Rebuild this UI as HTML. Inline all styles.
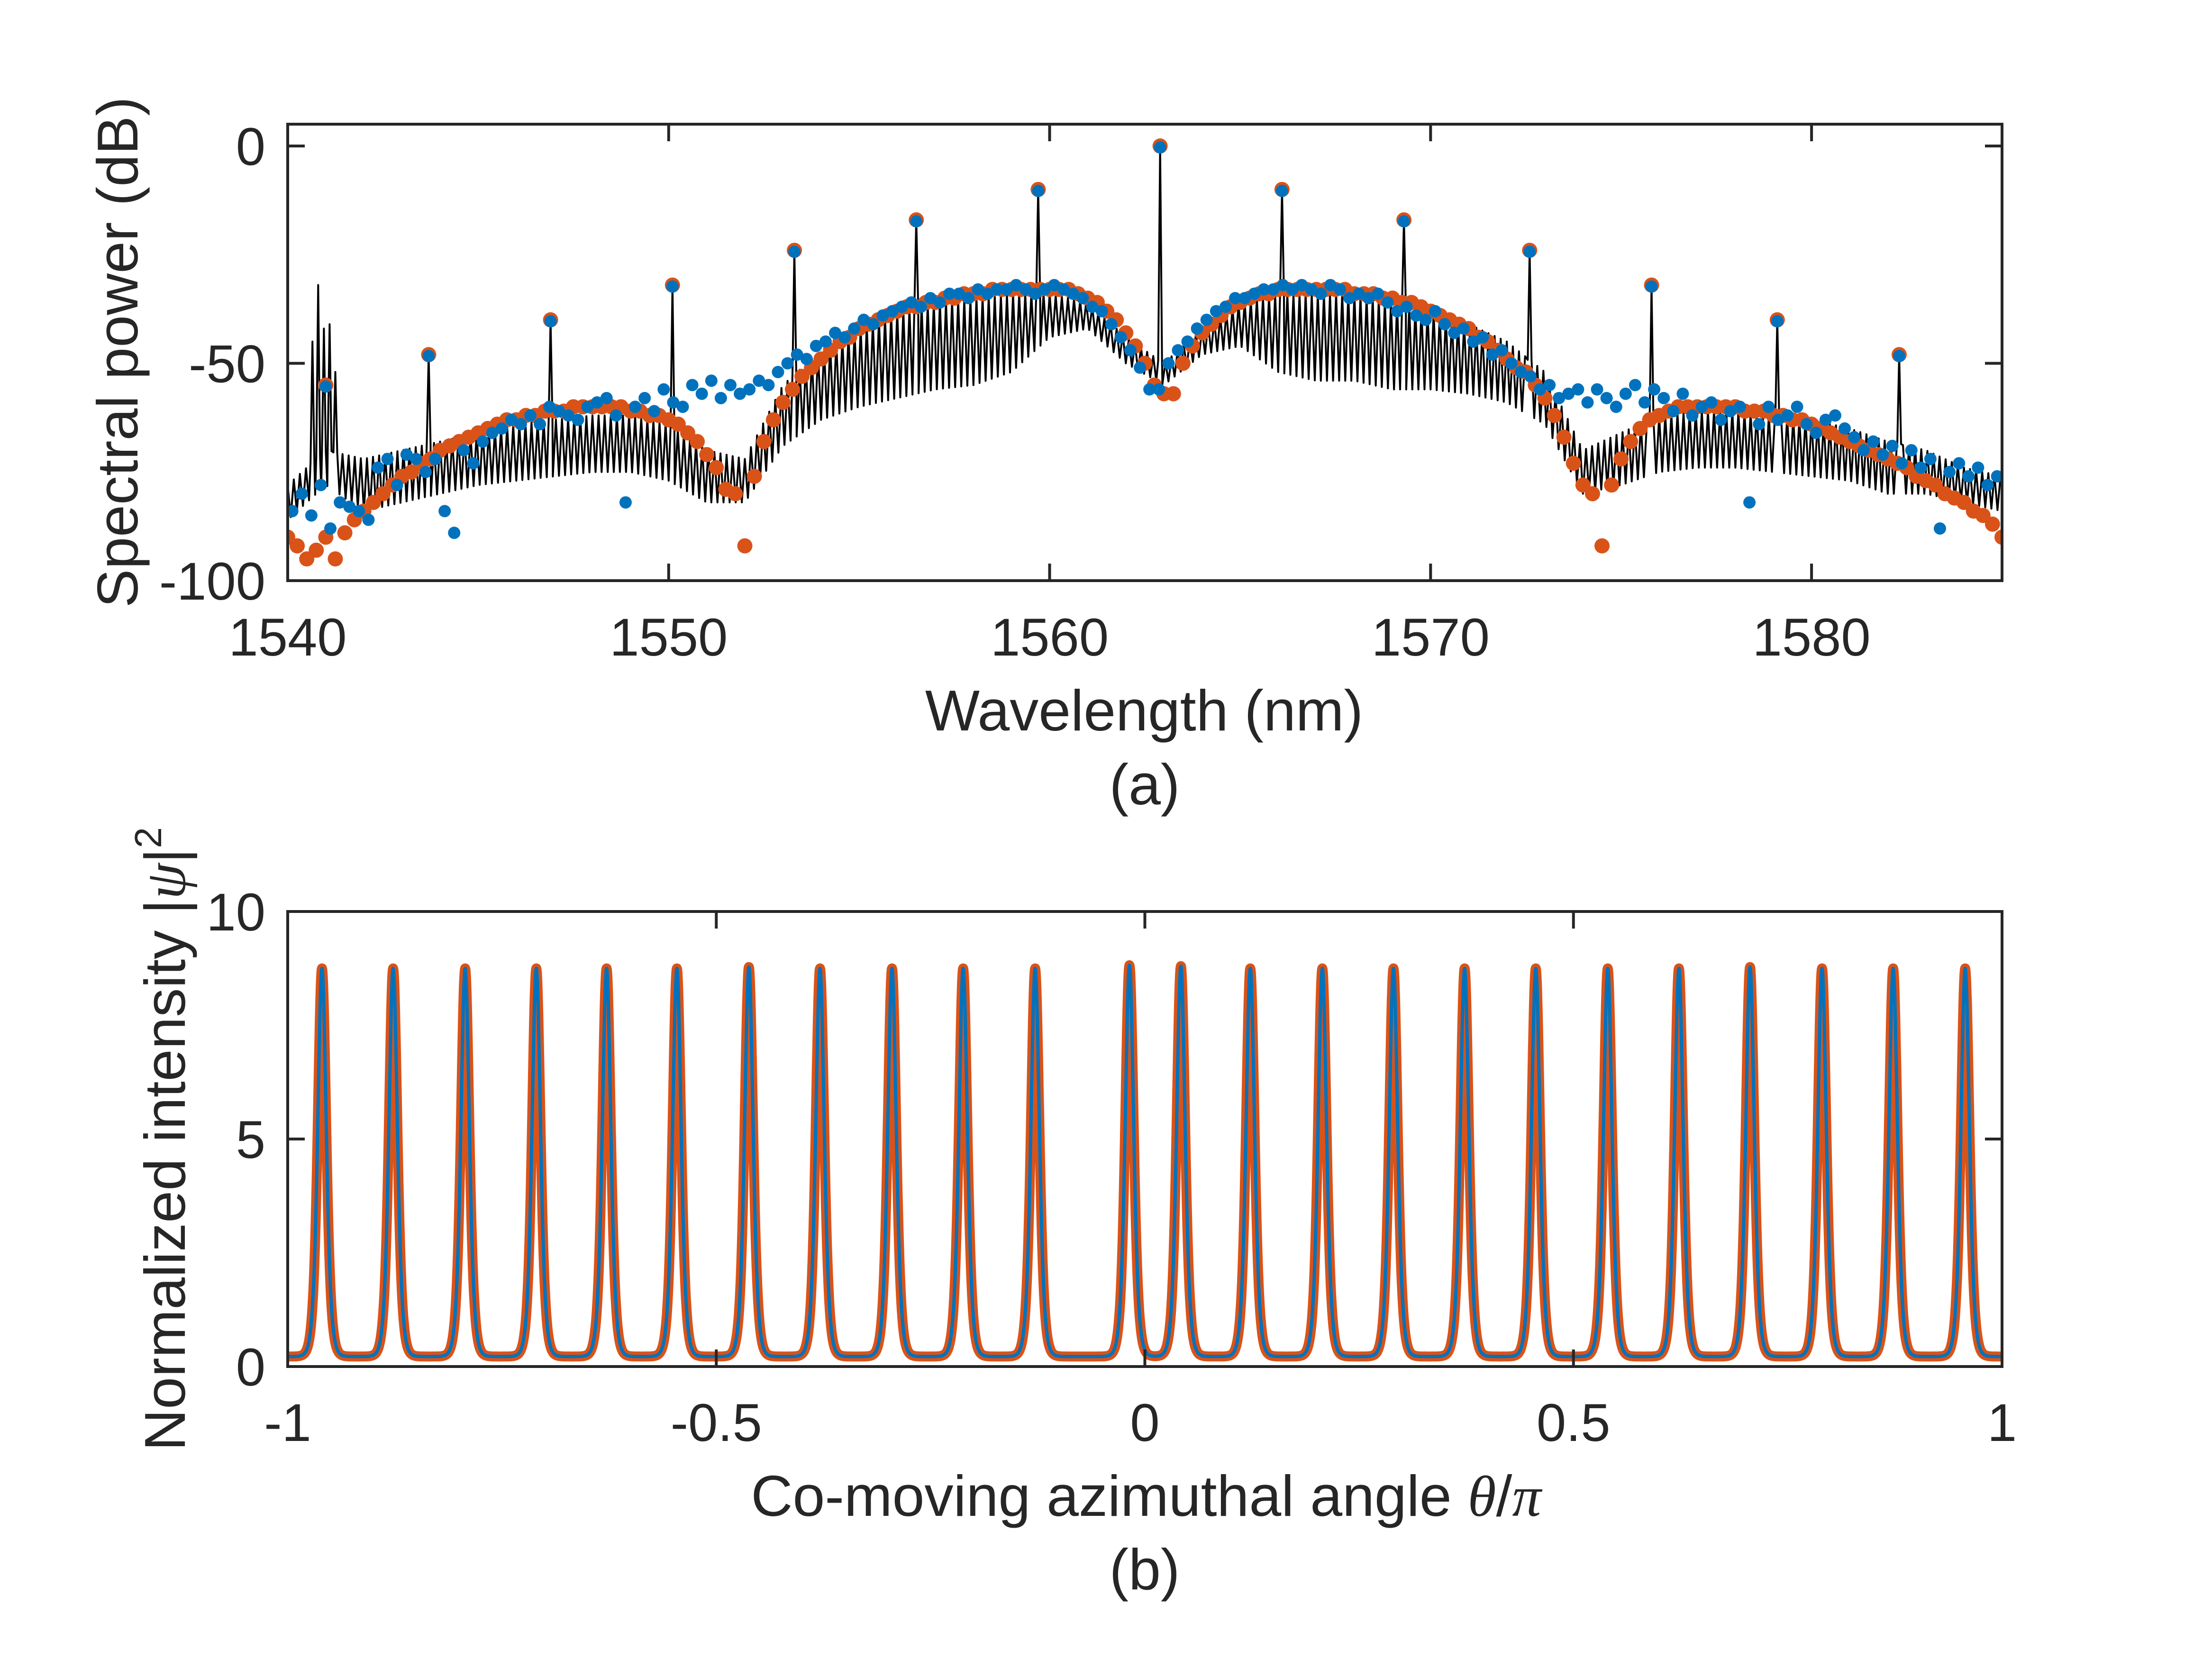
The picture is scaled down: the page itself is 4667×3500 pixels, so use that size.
<!DOCTYPE html>
<html><head><meta charset="utf-8">
<style>
html,body{margin:0;padding:0;background:#fff;}
svg{display:block;}
text{font-family:"Liberation Sans",Arial,sans-serif;fill:#262626;}
</style></head>
<body>
<svg id="fig" xmlns="http://www.w3.org/2000/svg" width="4667" height="3500" viewBox="0 0 4667 3500">
<rect width="4667" height="3500" fill="#fff"/>
<g id="panelA"></g>
<g id="panelB"></g>
</svg>
<script>
// ---------- Panel (a) data ----------
const wlStart = 1540, wlStep = 0.25;
const orangeDB = [-90,-92,-95,-93,-90,-95,-89,-86,-84,
-82,-80,-78,-76,-75,-73,-72,-70,-69,-68,-67,-66,
-65,-64,-63,-63,-62,-62,-61,-61,-61,-60,-60,-60,
-60,-60,-60,-61,-61,-62,-62,-63,
-64,-66,-68,-71,-74,-79,-80,-92,
-76,-68,-63,-59,-56,-53,-51,-49,
-47,-45,-44,-42,-41,-40,-39,-38,
-37,-37,-36,-36,-35,-35,-34,-34,
-34,-33,-33,-33,-33,-33,-33,-33,
-33,-33,-34,-35,-36,-38,-40,-43,
-46,-50,-55,-57,-57,-50,-46,-43,
-41,-39,-37,-36,-35,-34,-34,-33,
-33,-33,-33,-33,-33,-33,-33,-34,
-34,-34,-35,-35,-36,-36,-37,-38,
-39,-40,-41,-42,-44,-45,-47,-49,
-51,-52,-55,-58,-62,-67,-73,-78,
-80,-92,-78,
-72,-68,-65,-63,-62,-61,
-60,-60,-60,-60,-60,-60,-60,-61,
-61,-61,-62,-62,-63,-63,-64,-65,
-66,-67,-68,-69,-70,-71,-72,-73,
-74,-76,-77,-78,-80,-81,-82,-84,
-85,-87,-90,-86];
const blueDB = [-84,-80,-85,-78,-88,-82,-83,-84,-86,
-74,-72,-78,-71,-72,-75,-72,-84,-89,-70,-73,-68,
-66,-65,-63,-64,-62,-64,-60,-61,-62,-63,-60,-59,
-58,-62,-82,-60,-58,-61,-56,-59,
-60,-55,-57,-54,-58,-55,-57,-56,
-54,-55,-52,-50,-48,-49,-46,-45,
-43,-44,-42,-40,-41,-39,-38,-37,
-36,-37,-35,-36,-34,-34,-35,-33,
-34,-33,-33,-32,-33,-34,-33,-32,
-33,-34,-35,-37,-38,-41,-44,-47,
-51,-56,-56,-50,-47,-45,-42,-40,
-38,-37,-35,-35,-34,-33,-33,-32,
-33,-32,-33,-34,-32,-33,-35,-34,
-35,-34,-36,-38,-37,-39,-40,-38,
-41,-43,-42,-45,-44,-48,-47,-50,
-52,-53,-56,-55,-58,-57,-56,-59,
-56,-58,
-60,-57,-55,-59,-56,-58,
-61,-57,-62,-60,-59,-63,-61,-60,
-82,-64,-60,-63,-62,-60,-64,-66,
-63,-62,-65,-67,-70,-68,-71,-69,
-73,-70,-74,-72,-88,-75,-73,-76,
-74,-78,-76,-75];
const combWL = [1543.7,1546.9,1550.1,1553.3,1556.5,1559.7,1562.9,1566.1,1569.3,1572.6,1575.8,1579.1,1582.3];
const combDB = [-48,-40,-32,-24,-17,-10,0,-10,-17,-24,-32,-40,-48];
const combDotWL = [1541.0].concat(combWL);
const combDotDB = [-55].concat(combDB);
const blackTop = [-78,-70,-72,-70,-68,-66,-64,-63,-62,-62,-64,-70,-72,-55,-47,-42,-38,-36,-35,-34,-34,-36,-44,-50,-42,-36,-34,-34,-34,-36,-38,-41,-45,-52,-70,-66,-62,-61,-61,-62,-63,-65,-68,-70,-74,-76];
const blackDepth = [8,8,12,12,12,12,13,13,13,13,13,12,10,14,16,18,20,20,20,18,10,6,6,5,6,10,18,20,20,20,18,16,14,12,10,12,13,13,13,13,13,12,12,10,8,8];
const extraWL = [1540.65,1540.8,1540.95,1541.1,1541.25];
const extraDB = [-45,-32,-42,-41,-52];
const xTicksA = [1540,1550,1560,1570,1580];
const yTicksA = [0,-50,-100];

// ---------- Panel (b) data ----------
const peakPos = [-0.960,-0.877,-0.793,-0.710,-0.628,-0.546,-0.462,-0.379,-0.295,-0.212,-0.128,-0.018,0.042,0.123,0.207,0.290,0.373,0.456,0.540,0.623,0.706,0.790,0.873,0.957];
const peakAmp = [8.75,8.75,8.75,8.75,8.75,8.75,8.78,8.75,8.75,8.75,8.75,8.82,8.8,8.75,8.75,8.75,8.75,8.75,8.75,8.75,8.78,8.75,8.75,8.75];
const baseLevel = [0.22];
const xTicksB = [-1,-0.5,0,0.5,1];
const yTicksB = [0,5,10];

const NS="http://www.w3.org/2000/svg";
function mk(parent,tag,attrs,txt){const e=document.createElementNS(NS,tag);for(const k in attrs)e.setAttribute(k,attrs[k]);if(txt!==undefined)e.textContent=txt;parent.appendChild(e);return e;}

const AL=607, AR=4224;
const aT=262, aB=1225, bT=1923, bB=2883;
const xA = w => AL+(w-1540)/45*(AR-AL);
const yA = v => 308 - v*9.17;
const xB = t => AL+(t+1)/2*(AR-AL);
const yB = v => bB - v*96;

const gTopPanel=document.getElementById('panelA');
const gBotPanel=document.getElementById('panelB');

const defs=mk(document.getElementById('fig'),'defs',{});
const c1=mk(defs,'clipPath',{id:'clipA'}); mk(c1,'rect',{x:AL,y:aT,width:AR-AL,height:aB-aT});
const c2=mk(defs,'clipPath',{id:'clipB'}); mk(c2,'rect',{x:AL,y:bT,width:AR-AL,height:bB-bT});

function interp(arr,w){const f=(w-1540);const i=Math.max(0,Math.min(arr.length-2,Math.floor(f)));const t=f-i;return arr[i]*(1-t)+arr[i+1]*t;}
let pts=[];
const tooth=0.16;
for(let k=0;k*tooth/2<=45;k++){
  const w=1540+k*tooth/2;
  let v=interp(blackTop,w);
  if(k%2===1) v-=interp(blackDepth,w);
  pts.push([w,v]);
}
const spikes=combWL.map((w,i)=>[w,combDB[i]]).concat(extraWL.map((w,i)=>[w,extraDB[i]]));
spikes.forEach(s=>{
  pts=pts.filter(p=>Math.abs(p[0]-s[0])>0.05);
  pts.push([s[0]-0.05,interp(blackTop,s[0])],[s[0],s[1]],[s[0]+0.05,interp(blackTop,s[0])]);
});
pts.sort((a,b)=>a[0]-b[0]);
const gA=mk(gTopPanel,'g',{'clip-path':'url(#clipA)'});
const blk=mk(gA,'path',{d:'M'+pts.map(p=>xA(p[0]).toFixed(1)+','+yA(p[1]).toFixed(1)).join('L'),fill:'none',stroke:'#000','stroke-width':4,'stroke-linejoin':'round'});



const gOr=mk(gA,'g',{});


orangeDB.forEach((v,i)=>{const c=mk(gOr,'circle',{cx:xA(wlStart+wlStep*i),cy:yA(v),r:16,fill:'#D95319'});
  
  });
combDotWL.forEach((w,i)=>{const c=mk(gOr,'circle',{cx:xA(w),cy:yA(combDotDB[i]),r:16,fill:'#D95319'});
  
  });
const gBl=mk(gA,'g',{});


blueDB.forEach((v,i)=>{const c=mk(gBl,'circle',{cx:xA(wlStart+wlStep*i+0.12),cy:yA(v),r:13,fill:'#0072BD'});
  
  });
combDotWL.forEach((w,i)=>{const c=mk(gBl,'circle',{cx:xA(w),cy:yA(combDotDB[i])+3,r:13,fill:'#0072BD'});
  
  });

function prof(t){let v=baseLevel[0];peakPos.forEach((p,i)=>{const z=(t-p)/0.0066;const s=1/Math.cosh(z);v+=(peakAmp[i]-baseLevel[0])*s*s;});return v;}
let bp=[];
for(let i=0;i<=6000;i++){const t=-1+2*i/6000;bp.push(xB(t).toFixed(1)+','+yB(prof(t)).toFixed(1));}
const gB=mk(gBotPanel,'g',{'clip-path':'url(#clipB)'});
const oc=mk(gB,'path',{d:'M'+bp.join('L'),fill:'none',stroke:'#D95319','stroke-width':21,'stroke-linejoin':'round'});


const bc=mk(gB,'path',{d:'M'+bp.join('L'),fill:'none',stroke:'#0072BD','stroke-width':7,'stroke-linejoin':'round'});



function box(g,T,B){
  const r=mk(g,'rect',{x:AL,y:T,width:AR-AL,height:B-T,fill:'none',stroke:'#262626','stroke-width':6});
  
  
}
box(gTopPanel,aT,aB); box(gBotPanel,bT,bB);
const TL=36;
xTicksA.forEach(w=>{const x=xA(w);
  mk(gTopPanel,'line',{x1:x,y1:aB,x2:x,y2:aB-TL,stroke:'#262626','stroke-width':6});
  mk(gTopPanel,'line',{x1:x,y1:aT,x2:x,y2:aT+TL,stroke:'#262626','stroke-width':6});
  const t=mk(gTopPanel,'text',{x:x,y:1383,'font-size':112,'text-anchor':'middle'},String(w));
  
  });
yTicksA.forEach(v=>{const y=yA(v);
  mk(gTopPanel,'line',{x1:AL,y1:y,x2:AL+TL,y2:y,stroke:'#262626','stroke-width':6});
  mk(gTopPanel,'line',{x1:AR,y1:y,x2:AR-TL,y2:y,stroke:'#262626','stroke-width':6});
  const t=mk(gTopPanel,'text',{x:560,y:y+40,'font-size':112,'text-anchor':'end'},String(v));
  
  });
xTicksB.forEach(w=>{const x=xB(w);
  mk(gBotPanel,'line',{x1:x,y1:bB,x2:x,y2:bB-TL,stroke:'#262626','stroke-width':6});
  mk(gBotPanel,'line',{x1:x,y1:bT,x2:x,y2:bT+TL,stroke:'#262626','stroke-width':6});
  const t=mk(gBotPanel,'text',{x:x,y:3040,'font-size':112,'text-anchor':'middle'},String(w));
  
  });
yTicksB.forEach(v=>{const y=yB(v);
  mk(gBotPanel,'line',{x1:AL,y1:y,x2:AL+TL,y2:y,stroke:'#262626','stroke-width':6});
  mk(gBotPanel,'line',{x1:AR,y1:y,x2:AR-TL,y2:y,stroke:'#262626','stroke-width':6});
  const t=mk(gBotPanel,'text',{x:560,y:y+40,'font-size':112,'text-anchor':'end'},String(v));
  
  });
</script>
<svg style="position:absolute;left:0;top:0" width="4667" height="3500" viewBox="0 0 4667 3500">
<text x="2414" y="1541" font-size="122" text-anchor="middle">Wavelength (nm)</text>
<text x="2415" y="1697" font-size="122" text-anchor="middle">(a)</text>
<text transform="translate(290,743) rotate(-90)" font-size="122" text-anchor="middle">Spectral power (dB)</text>
<text x="2418" y="3198" font-size="122" text-anchor="middle">Co-moving azimuthal angle <tspan font-family="Liberation Serif" font-style="italic">θ</tspan>/<tspan font-family="Liberation Serif" font-style="italic">π</tspan></text>
<text x="2415" y="3353" font-size="122" text-anchor="middle">(b)</text>
<text transform="translate(390,2403) rotate(-90)" font-size="122" text-anchor="middle">Normalized intensity |<tspan font-family="Liberation Serif" font-style="italic">ψ</tspan>|<tspan font-size="80" dy="-50">2</tspan></text>
</svg>
</body></html>
